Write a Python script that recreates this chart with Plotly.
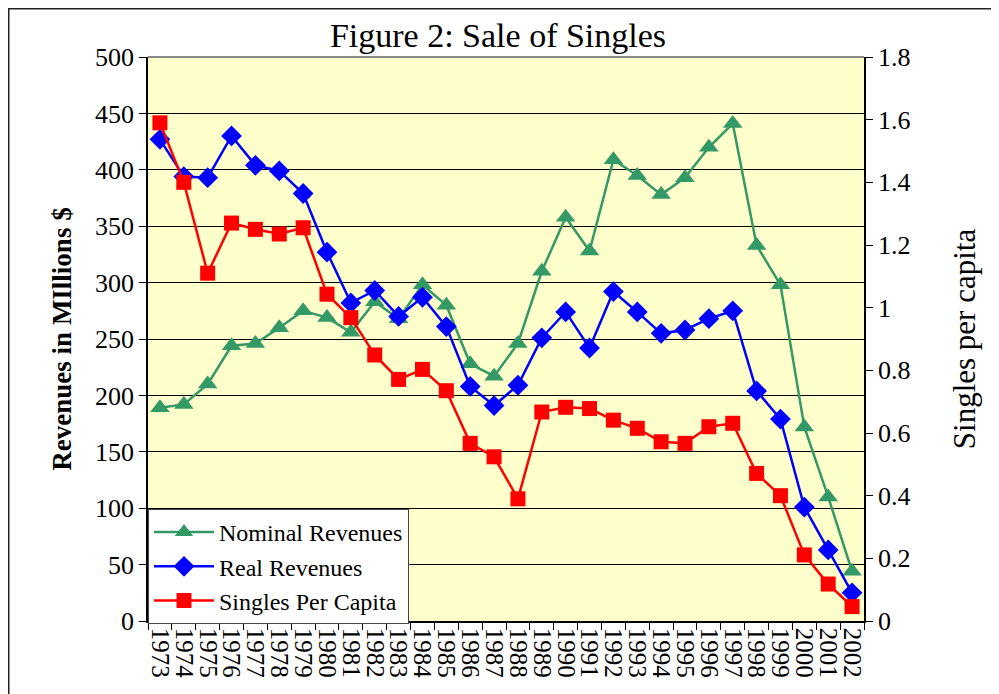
import plotly.graph_objects as go

years = [str(y) for y in range(1973, 2003)]
nominal = [189, 192, 210, 244, 246, 260, 275, 269, 256, 283, 268, 298, 280, 228, 217,
           246, 310, 358, 328, 409, 395, 378, 393, 420, 441, 333, 298, 172, 110, 44]
real = [427, 394, 393, 430, 404, 399, 379, 327, 282, 293, 270, 287, 261, 208, 191,
        209, 251, 274, 242, 292, 274, 255, 258, 268, 275, 204, 179, 101, 63, 25]
per_capita = [1.59, 1.40, 1.11, 1.27, 1.25, 1.235, 1.255, 1.043, 0.968, 0.849, 0.771, 0.803,
              0.735, 0.567, 0.524, 0.39, 0.667, 0.682, 0.678, 0.641, 0.615, 0.572, 0.567,
              0.620, 0.631, 0.471, 0.40, 0.211, 0.118, 0.046]
left_ticks = list(range(0, 501, 50))
right_ticks = [0, 0.2, 0.4, 0.6, 0.8, 1, 1.2, 1.4, 1.6, 1.8]

FONT = "Liberation Serif"
OFF = 8  # page body margin
W, H = 991, 686
L, T = 148 - OFF, 57 - OFF
Rr, Bb = 864 - OFF, 621 - OFF
pw, ph = Rr - L, Bb - T

def px(xp):  # page x -> paper
    return (xp - OFF - L) / pw

def py(yp):  # page y -> paper
    return (Bb - (yp - OFF)) / ph

fig = go.Figure()
fig.add_trace(go.Scatter(x=years, y=nominal, name="Nominal Revenues", mode="lines+markers",
                         line=dict(color="#339966", width=2.5),
                         marker=dict(symbol="triangle-up", size=17, color="#339966")))
fig.add_trace(go.Scatter(x=years, y=real, name="Real Revenues", mode="lines+markers",
                         line=dict(color="#0000FF", width=2.5),
                         marker=dict(symbol="diamond", size=16, color="#0000FF")))
fig.add_trace(go.Scatter(x=years, y=per_capita, name="Singles Per Capita", mode="lines+markers",
                         yaxis="y2",
                         line=dict(color="#FF0000", width=2.5),
                         marker=dict(symbol="square", size=15, color="#FF0000")))

fig.update_layout(
    width=W, height=H,
    margin=dict(l=L, r=W - Rr, t=T, b=H - Bb, autoexpand=False),
    paper_bgcolor="white", plot_bgcolor="#FFFFCC",
    font=dict(family=FONT, size=26, color="black"),
    title=dict(text="Figure 2: Sale of Singles", x=(498 - OFF) / W, xanchor="center",
               y=1 - (35 - OFF) / H, yanchor="middle", automargin=False,
               font=dict(size=34, family=FONT)),
    xaxis=dict(type="category", range=[-0.5, 29.5], tickangle=90, tickson="boundaries",
               tickmode="array", tickvals=years, ticktext=years,
               ticks="outside", ticklen=7, tickcolor="black", showline=True,
               linecolor="black", linewidth=1.5, showgrid=False, zeroline=False,
               automargin=False, tickfont=dict(size=25, family=FONT)),
    yaxis=dict(range=[0, 500], tickvals=left_ticks, ticks="outside", ticklen=7,
               tickcolor="black", showline=True, linecolor="black", linewidth=1.5,
               showgrid=True, gridcolor="black", gridwidth=1, zeroline=False,
               automargin=False, tickfont=dict(size=26, family=FONT),
               title=dict(text="<b>Revenues in MIllions $</b>", font=dict(size=27, family=FONT),
                          standoff=16)),
    yaxis2=dict(range=[0, 1.8], tickvals=right_ticks, overlaying="y", side="right",
                ticks="outside", ticklen=7, tickcolor="black", showline=True,
                linecolor="black", linewidth=1.5, showgrid=False, zeroline=False,
                automargin=False, tickfont=dict(size=26, family=FONT),
                title=dict(text="Singles per capita", font=dict(size=31, family=FONT),
                           standoff=44)),
    legend=dict(x=0, y=py(509), xanchor="left", yanchor="top",
                bgcolor="white", bordercolor="#444444", borderwidth=1,
                font=dict(size=24, family=FONT), itemwidth=60,
                tracegroupgap=0, itemsizing="trace"),
    showlegend=True,
)

# top plot border (grey)
fig.add_shape(type="line", xref="paper", yref="paper", x0=0, x1=1, y0=1, y1=1,
              line=dict(color="#888888", width=2))
# outer figure frame
fig.add_shape(type="rect", xref="paper", yref="paper",
              x0=px(8.75), x1=px(1020),
              y0=py(720), y1=py(8.75),
              line=dict(color="#222222", width=1.5), layer="below")

fig.write_html("out.html")
